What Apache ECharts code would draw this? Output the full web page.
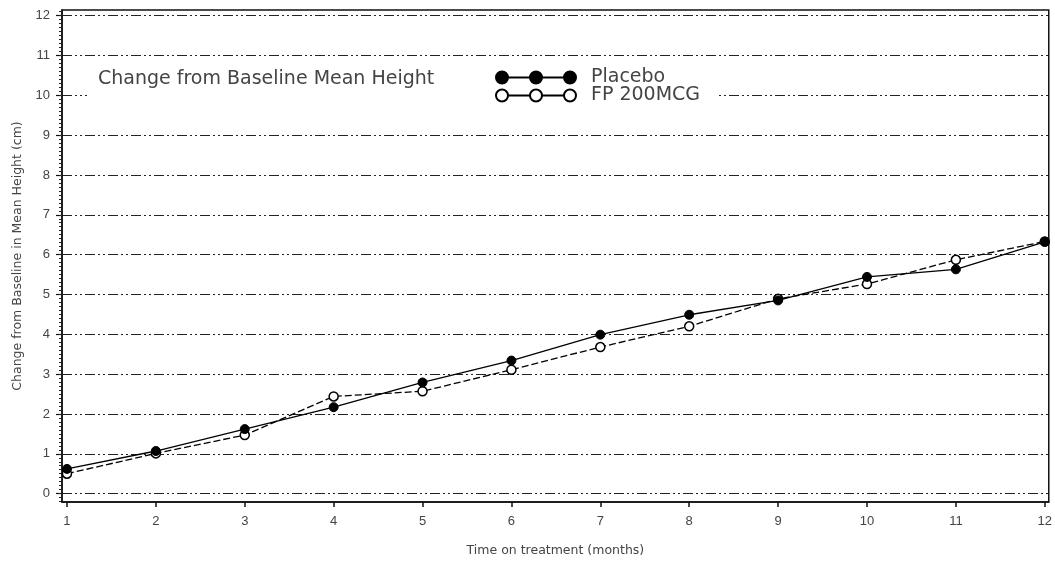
<!DOCTYPE html>
<html>
<head>
<meta charset="utf-8">
<script src="https://cdn.jsdelivr.net/npm/echarts@6/dist/echarts.min.js"></script>
<style>html,body{margin:0;padding:0;background:#fff}#c{width:1055px;height:562px}</style>
</head>
<body>
<div id="c"></div>
<script>
const months = [1,2,3,4,5,6,7,8,9,10,11,12];
const placebo = [0.62,1.07,1.62,2.17,2.79,3.34,3.99,4.49,4.85,5.44,5.63,6.32];
const fp200 = [0.50,1.01,1.47,2.44,2.57,3.11,3.68,4.20,4.89,5.26,5.87,6.33];
const yTicks = [0,1,2,3,4,5,6,7,8,9,10,11,12];
const xTicks = [1,2,3,4,5,6,7,8,9,10,11,12];
const yMinorTicks = [];
for (let i = -2; i <= 121; i++) yMinorTicks.push(i / 10);

const font = 'Liberation Sans, Arial, sans-serif';
const wide = 'DejaVu Sans, sans-serif';
const textColor = '#444';
const legendIcon = 'path://M0,6 A6,6 0 1 1 12,6 L34,6 A6,6 0 1 1 46,6 L68,6 A6,6 0 1 1 80,6 A6,6 0 1 1 68,6 L46,6 A6,6 0 1 1 34,6 L12,6 A6,6 0 1 1 0,6 Z';

const chart = echarts.init(document.getElementById('c'));
chart.setOption({
  animation: false,
  backgroundColor: '#fff',
  title: {
    text: 'Change from Baseline Mean Height',
    left: 87, top: 65, padding: [5, 60, 18, 11], backgroundColor: '#fff',
    textStyle: {fontFamily: wide, fontSize: 19, fontWeight: 'normal', color: textColor}
  },
  legend: [
    {data: ['Placebo'], left: 490, top: 68, itemWidth: 80, itemHeight: 12, icon: legendIcon,
     padding: [0, 16, 0, 5], backgroundColor: '#fff',
     textStyle: {fontFamily: wide, fontSize: 19, color: textColor, padding: [0,0,0,10]}, itemGap: 0},
    {data: ['FP 200MCG'], left: 490, top: 86, itemWidth: 80, itemHeight: 12, icon: legendIcon,
     padding: [0, 16, 6, 5], backgroundColor: '#fff',
     textStyle: {fontFamily: wide, fontSize: 19, color: textColor, padding: [0,0,0,10]}, itemGap: 0}
  ],
  grid: {left: 62, right: 5, top: 10, bottom: 56, show: true, borderColor: '#111', borderWidth: 1.5, backgroundColor: 'transparent'},
  xAxis: {
    type: 'value', min: 0.944, max: 12.045,
    name: 'Time on treatment (months)', nameLocation: 'middle', nameGap: 42,
    nameTextStyle: {fontFamily: wide, fontSize: 12.5, color: textColor},
    axisLine: {show: true, onZero: false, lineStyle: {color: '#111', width: 1.5}},
    axisTick: {show: true, customValues: xTicks, length: 5, lineStyle: {color: '#111', width: 1.5}},
    axisLabel: {customValues: xTicks, fontFamily: font, fontSize: 13, color: textColor, margin: 13},
    splitLine: {show: false}
  },
  yAxis: [
    {
      type: 'value', min: -0.21, max: 12.14,
      name: 'Change from Baseline in Mean Height (cm)', nameLocation: 'middle', nameGap: 38,
      nameTextStyle: {fontFamily: wide, fontSize: 12.5, color: textColor},
      axisLine: {show: true, onZero: false, lineStyle: {color: '#111', width: 1.5}},
      axisTick: {show: true, customValues: yTicks, length: 6, lineStyle: {color: '#111', width: 1.2}},
      axisLabel: {customValues: yTicks, fontFamily: font, fontSize: 13, color: textColor, margin: 12},
      splitLine: {show: true, lineStyle: {color: '#222', width: 1, type: [10,3,2,3,2,3]}}
    },
    {
      type: 'value', min: -0.21, max: 12.14, position: 'left',
      axisLine: {show: false},
      axisTick: {show: true, customValues: yMinorTicks, length: 3, lineStyle: {color: '#222', width: 1}},
      axisLabel: {show: false},
      splitLine: {show: false}
    }
  ],
  series: [
    {
      name: 'Placebo', type: 'line', z: 3,
      data: months.map((m, i) => [m, placebo[i]]),
      symbol: 'circle', symbolSize: 9,
      itemStyle: {color: '#000', borderColor: '#000', borderWidth: 1},
      lineStyle: {color: '#000', width: 1.3, type: 'solid'}
    },
    {
      name: 'FP 200MCG', type: 'line', z: 2,
      data: months.map((m, i) => [m, fp200[i]]),
      symbol: 'circle', symbolSize: 9,
      itemStyle: {color: '#fff', borderColor: '#000', borderWidth: 1.5},
      lineStyle: {color: '#000', width: 1.3, type: [7,3]}
    }
  ]
});
</script>
</body>
</html>
